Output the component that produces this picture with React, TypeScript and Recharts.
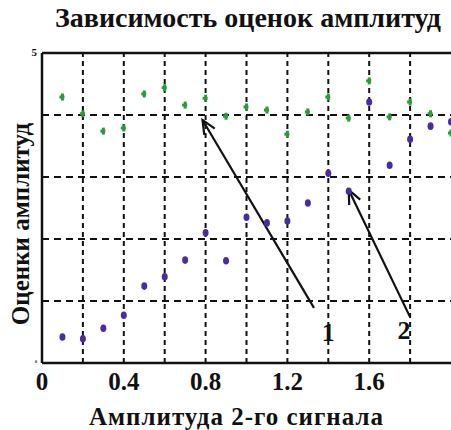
import {
  ScatterChart,
  Scatter,
  XAxis,
  YAxis,
  ReferenceLine,
  ReferenceDot,
} from "recharts";

const GREEN = "#2c9a3a";
const BLUE = "#4a2ca2";
const FONT = "'Liberation Serif', 'DejaVu Serif', serif";

// amplitude of the 2nd signal
const amplitudes = [0.1, 0.2, 0.3, 0.4, 0.5, 0.6, 0.7, 0.8, 0.9, 1.0, 1.1, 1.2, 1.3, 1.4, 1.5, 1.6, 1.7, 1.8, 1.9, 2.0];
// estimate of 1st amplitude (green)
const estimates1 = [4.29, 4.02, 3.74, 3.79, 4.34, 4.44, 4.16, 4.27, 3.98, 4.13, 4.08, 3.69, 4.05, 4.29, 3.95, 4.55, 3.97, 4.21, 4.02, 3.71];
// estimate of 2nd amplitude (blue)
const estimates2 = [0.42, 0.39, 0.56, 0.77, 1.24, 1.39, 1.66, 2.1, 1.65, 2.35, 2.26, 2.29, 2.58, 3.06, 2.77, 4.21, 3.19, 3.61, 3.82, 3.89];

const xTicks = [0, 0.4, 0.8, 1.2, 1.6];
const yTicks = [0, 5];
const gridX = [0.2, 0.4, 0.6, 0.8, 1.0, 1.2, 1.4, 1.6, 1.8];
const gridY = [1, 2, 3, 4];

// pointer arrows: tail -> tip, and their labels
const arrows = [
  { id: "1", from: { x: 1.33, y: 0.89 }, to: { x: 0.785, y: 3.92 } },
  { id: "2", from: { x: 1.8, y: 0.74 }, to: { x: 1.5, y: 2.79 } },
];
const arrowLabels = [
  { text: "1", x: 1.4, y: 0.5 },
  { text: "2", x: 1.77, y: 0.53 },
];

const green = amplitudes.map((x, i) => ({ x, y: estimates1[i] }));
const blue = amplitudes.map((x, i) => ({ x, y: estimates2[i] }));

const GreenMark = (p: any) => (
  <g fill={GREEN}>
    <rect x={p.cx - 1.5} y={p.cy - 3.5} width={3} height={7} />
    <rect x={p.cx - 3} y={p.cy - 1.5} width={5} height={3} />
  </g>
);

const BlueMark = (p: any) => <ellipse cx={p.cx} cy={p.cy} rx={3} ry={3.8} fill={BLUE} />;

const ArrowShape = (p: any) => {
  const { x1, y1, x2, y2 } = p;
  const a = Math.atan2(y2 - y1, x2 - x1);
  const len = 15;
  const spread = 0.42;
  const h1x = x2 - len * Math.cos(a - spread);
  const h1y = y2 - len * Math.sin(a - spread);
  const h2x = x2 - len * Math.cos(a + spread);
  const h2y = y2 - len * Math.sin(a + spread);
  return (
    <g stroke="#111" strokeWidth={2.2} fill="none">
      <line x1={x1} y1={y1} x2={x2} y2={y2} />
      <polyline points={`${h1x},${h1y} ${x2},${y2} ${h2x},${h2y}`} />
    </g>
  );
};

const YTick = (p: any) => (
  <text
    x={p.x - 3}
    y={p.y + (p.payload.value === 0 ? 0 : 3)}
    textAnchor="end"
    fontSize={p.payload.value === 0 ? 4 : 11}
    fontWeight="bold"
    fontFamily={FONT}
    fill="#111"
  >
    {p.payload.value}
  </text>
);

const textStyle = { fontFamily: FONT, fontWeight: "bold", color: "#111", whiteSpace: "nowrap" } as const;

export default function App() {
  return (
    <div style={{ position: "relative", width: 451, height: 430, background: "#fff", overflow: "hidden" }}>
      <style>{"body{margin:0}"}</style>
      <div
        style={{
          ...textStyle,
          position: "absolute",
          left: 0,
          top: 2,
          width: 451,
          paddingLeft: 45,
          boxSizing: "border-box",
          textAlign: "center",
          fontSize: 28,
        }}
      >
        Зависимость оценок амплитуд
      </div>
      <div
        style={{
          ...textStyle,
          position: "absolute",
          left: 21,
          top: 224,
          fontSize: 25,
          lineHeight: "28px",
          transform: "translate(-50%, -50%) rotate(-90deg)",
        }}
      >
        Оценки амплитуд
      </div>
      <ScatterChart width={451} height={430} margin={{ top: 53, right: 0, bottom: 0, left: 0 }}>
        <XAxis
          type="number"
          dataKey="x"
          domain={[0, 2]}
          ticks={xTicks}
          tickFormatter={(v) => String(v)}
          tickLine={false}
          tickSize={0}
          tickMargin={9}
          height={67}
          axisLine={{ stroke: "#111", strokeWidth: 2.5 }}
          tick={{ fontSize: 25, fontWeight: "bold", fontFamily: FONT, fill: "#111" }}
          label={{
            value: "Амплитуда 2-го сигнала",
            position: "insideBottom",
            offset: 5,
            dx: -10,
            style: { fontSize: 25, fontWeight: "bold", fontFamily: FONT, fill: "#111", letterSpacing: 1 },
          }}
          allowDataOverflow
        />
        <YAxis
          type="number"
          dataKey="y"
          domain={[0, 5]}
          ticks={yTicks}
          width={42}
          tickLine={false}
          tickSize={0}
          axisLine={{ stroke: "#111", strokeWidth: 2.5 }}
          tick={<YTick />}
        />
        {gridX.map((v) => (
          <ReferenceLine key={"gx" + v} x={v} stroke="#111" strokeWidth={2} strokeDasharray="5 4" />
        ))}
        {gridY.map((v) => (
          <ReferenceLine key={"gy" + v} y={v} stroke="#111" strokeWidth={2} strokeDasharray="7 5" />
        ))}
        <ReferenceLine y={5} stroke="#111" strokeWidth={2.5} />
        <Scatter data={green} shape={<GreenMark />} isAnimationActive={false} />
        <Scatter data={blue} shape={<BlueMark />} isAnimationActive={false} />
        {arrows.map((a) => (
          <ReferenceLine
            key={"ar" + a.id}
            segment={[a.from, a.to]}
            stroke="#111"
            shape={(p: any) => <ArrowShape {...p} />}
          />
        ))}
        {arrowLabels.map((l) => (
          <ReferenceDot
            key={"lb" + l.text}
            x={l.x}
            y={l.y}
            r={0}
            stroke="none"
            fill="none"
            label={{
              value: l.text,
              position: "center",
              style: { fontSize: 26, fontFamily: FONT, fill: "#111", fontWeight: "bold" },
            }}
          />
        ))}
      </ScatterChart>
    </div>
  );
}
